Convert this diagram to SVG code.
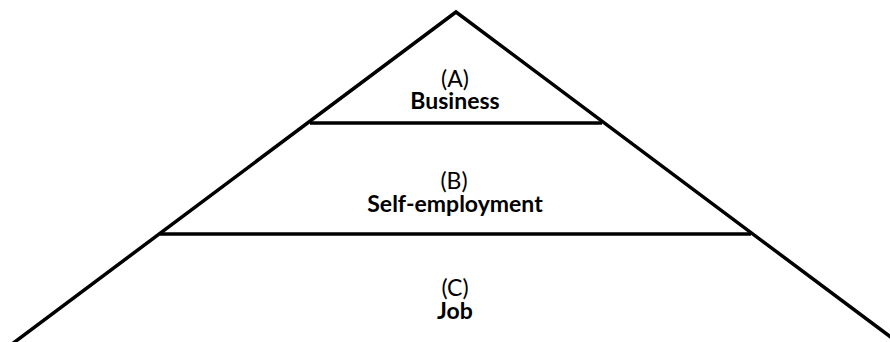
<svg xmlns="http://www.w3.org/2000/svg" width="890" height="342" viewBox="0 0 890 342">
<style>
.edge{stroke:#000;stroke-width:3.5;fill:none;stroke-linejoin:miter}
.t{font-family:Lato,"Open Sans","Liberation Sans",sans-serif;font-size:23px;text-anchor:middle;fill:#000}
.b{font-weight:bold}
</style>
<rect width="890" height="342" fill="#fff"/>
<g id="connectors">
<polyline class="edge" points="0,353 456,12 912,353"/>
<line class="edge" x1="310" y1="123" x2="602" y2="123"/>
<line class="edge" x1="160" y1="234" x2="751" y2="234"/>
</g>
<g id="nodeA">
<text class="t" x="455" y="87">(A)</text>
<text class="t b" x="455" y="109">Business</text>
</g>
<g id="nodeB">
<text class="t" x="454" y="189">(B)</text>
<text class="t b" x="455" y="212">Self-employment</text>
</g>
<g id="nodeC">
<text class="t" x="455" y="296">(C)</text>
<text class="t b" x="455" y="319">Job</text>
</g>
</svg>
